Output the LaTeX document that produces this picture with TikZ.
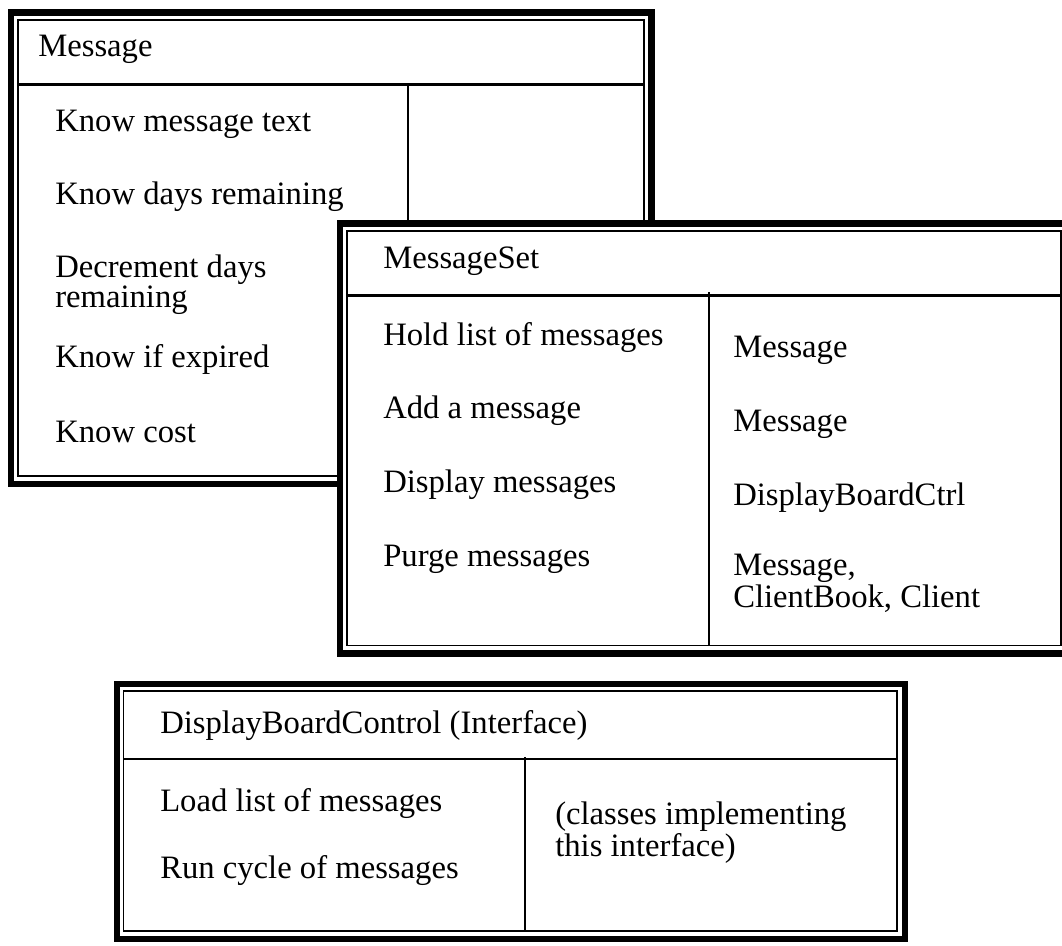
\documentclass[tikz,border=0pt]{standalone}
\usepackage{fontspec}
\setmainfont{Liberation Serif}
\usetikzlibrary{positioning}

\begin{document}
\begin{tikzpicture}[
        x=0.75pt, y=-0.75pt,
        font=\fontsize{24.5}{22}\selectfont,
        card_outer/.style={
            draw=black,
            fill=white,
            line width=5.2pt
        },
        card_inner/.style={
            draw=black,
            line width=1.4pt
        },
        card_rule/.style={
            draw=black,
            line width=1.6pt
        },
        card_text/.style={
            anchor=base west,
            inner sep=0pt,
            align=left
        }
    ]
    \useasboundingbox (0,0) rectangle (1062,945);

    % Card 1: Message
    \draw[card_outer] (11,12.5) rectangle (651.5,484);
    \draw[card_inner] (18,20) rectangle (644,476);
    \draw[card_rule] (18,84.5) -- (644,84.5);
    \draw[card_rule] (408,84.5) -- (408,476);
    \node[card_text] (m_title) at (38,57) {Message};
    \node[card_text] (m_text) at (55,132) {Know message text};
    \node[card_text] (m_days) at (55,204) {Know days remaining};
    \node[card_text] (m_decr) at (55,307) {Decrement days\\remaining};
    \node[card_text] (m_exp) at (55,367) {Know if expired};
    \node[card_text] (m_cost) at (55,442) {Know cost};

    % Card 2: MessageSet
    \draw[card_outer] (340,223.5) rectangle (1070,653.5);
    \draw[card_inner] (347,231) rectangle (1061,645.5);
    \draw[card_rule] (347,295.5) -- (1061,295.5);
    \draw[card_rule] (709,292) -- (709,645.5);
    \node[card_text] (s_title) at (383,268) {MessageSet};
    \node[card_text] (s_hold) at (383,345) {Hold list of messages};
    \node[card_text] (s_add) at (383,418) {Add a message};
    \node[card_text] (s_disp) at (383,492) {Display messages};
    \node[card_text] (s_purge) at (383,566) {Purge messages};
    \node[card_text] (c_hold) at (733,357) {Message};
    \node[card_text] (c_add) at (733,431) {Message};
    \node[card_text] (c_disp) at (733,505) {DisplayBoardCtrl};
    \node[card_text] (c_purge) at (733,607) {Message,\\ClientBook, Client};

    % Card 3: DisplayBoardControl
    \draw[card_outer] (117,684) rectangle (905,939);
    \draw[card_inner] (123.5,691) rectangle (897,931);
    \draw[card_rule] (123.5,759) -- (897,759);
    \draw[card_rule] (525,757) -- (525,931);
    \node[card_text] (d_title) at (160,733) {DisplayBoardControl (Interface)};
    \node[card_text] (d_load) at (160,811) {Load list of messages};
    \node[card_text] (d_run) at (160,878) {Run cycle of messages};
    \node[card_text] (d_impl) at (555,856) {(classes implementing\\this interface)};

\end{tikzpicture}
\end{document}
